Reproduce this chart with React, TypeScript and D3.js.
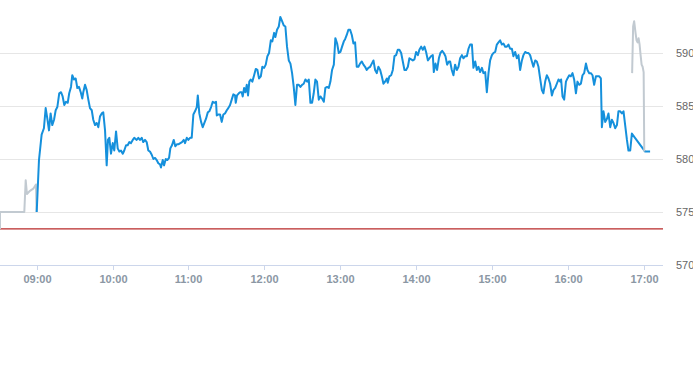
import React from "react";
import * as d3 from "d3";

// ---- data (minutes after 09:00, price) ----
const yTickValues = [570, 575, 580, 585, 590];
const xTickLabels = ["09:00", "10:00", "11:00", "12:00", "13:00", "14:00", "15:00", "16:00", "17:00"];
const referenceLevel = 573.4;

const preMarket: [number, number][] = [
  [-28.9, 573.4], [-28.9, 575.0], [-9.7, 575.0], [-8.6, 578.0], [-7.6, 576.7], [-5.2, 577.0],
  [-2.6, 577.2], [-0.5, 577.6], [0.0, 575.0],
];

const session: [number, number][] = [
  [0.1, 575.0], [1.9, 579.9], [4.0, 582.3], [5.8, 582.9], [7.2, 584.8], [8.5, 583.8], [9.8, 582.7],
  [11.1, 584.3], [12.4, 583.2], [13.8, 583.7], [15.1, 584.6], [16.4, 584.9], [17.9, 586.2], [19.3, 586.3],
  [20.6, 585.9], [21.9, 585.1], [23.2, 585.4], [24.6, 585.3], [25.8, 586.2], [27.2, 586.8], [28.2, 587.9],
  [29.6, 587.5], [30.9, 587.6], [32.2, 586.7], [33.5, 586.8], [34.9, 586.3], [36.1, 585.7], [36.9, 586.3],
  [38.3, 587.0], [39.6, 586.5], [40.9, 585.6], [42.2, 584.8], [43.6, 584.6], [44.8, 583.7], [46.2, 583.2],
  [47.5, 583.4], [48.8, 583.0], [50.1, 584.0], [51.5, 584.3], [52.7, 584.4], [54.1, 582.7], [55.4, 579.4],
  [56.4, 581.8], [57.5, 582.0], [58.8, 580.5], [60.2, 581.5], [61.4, 580.8], [62.8, 582.6], [64.1, 581.0],
  [65.4, 580.7], [66.7, 580.8], [68.1, 580.5], [69.3, 580.8], [70.7, 581.3], [72.0, 581.3], [73.3, 581.6],
  [74.6, 581.5], [76.0, 581.8], [77.2, 582.0], [79.1, 581.8], [80.4, 582.0], [81.7, 581.8], [83.1, 582.0],
  [84.3, 581.6], [85.7, 581.8], [87.0, 581.6], [88.3, 580.8], [89.6, 580.7], [91.0, 580.4], [92.3, 580.0],
  [93.6, 580.1], [94.9, 579.9], [96.2, 579.6], [97.5, 579.5], [98.3, 579.2], [99.7, 579.9], [100.7, 579.4],
  [102.1, 580.0], [103.3, 579.9], [104.7, 580.1], [105.7, 581.0], [107.0, 581.3], [108.4, 581.8], [109.6, 581.2],
  [111.0, 581.4], [112.3, 581.4], [113.6, 581.5], [114.9, 581.6], [116.3, 581.8], [117.3, 581.5], [118.7, 582.0],
  [119.9, 581.8], [121.3, 582.0], [122.6, 582.0], [123.9, 584.2], [125.2, 584.5], [126.6, 584.9], [127.4, 586.0],
  [128.6, 584.3], [130.0, 583.5], [131.3, 583.0], [132.6, 583.4], [133.9, 583.8], [135.3, 584.4], [136.5, 584.5],
  [137.9, 584.9], [139.2, 585.4], [140.5, 585.3], [141.8, 585.4], [142.4, 584.1], [143.6, 584.2], [145.0, 584.2],
  [146.3, 583.5], [147.6, 584.2], [148.9, 584.3], [150.3, 584.6], [151.5, 584.8], [152.9, 585.1], [154.2, 585.6],
  [155.5, 586.1], [156.8, 586.0], [157.4, 585.3], [158.4, 586.0], [159.8, 586.2], [160.8, 586.3], [162.1, 586.3],
  [162.9, 585.9], [164.0, 586.7], [165.0, 586.3], [166.1, 587.0], [167.1, 586.0], [168.1, 587.3], [169.2, 587.5],
  [170.5, 587.3], [171.9, 587.9], [173.2, 588.5], [174.5, 588.4], [175.8, 587.6], [177.2, 587.8], [178.4, 588.7],
  [179.8, 588.6], [181.1, 588.9], [182.4, 589.7], [183.7, 590.0], [185.1, 591.2], [186.3, 591.1], [187.7, 591.9],
  [188.7, 591.5], [190.0, 592.2], [191.4, 592.5], [192.6, 593.4], [194.0, 593.0], [195.3, 592.6], [196.6, 592.5],
  [197.9, 590.6], [199.3, 589.3], [200.6, 589.0], [201.9, 588.1], [203.2, 586.8], [204.5, 585.1], [205.8, 587.0],
  [207.2, 587.0], [208.5, 586.8], [209.8, 587.0], [211.1, 587.1], [212.4, 587.5], [213.8, 587.3], [215.1, 587.5],
  [216.4, 585.3], [217.7, 585.3], [219.0, 586.2], [220.3, 587.5], [221.6, 587.3], [223.0, 585.6], [224.3, 585.9],
  [225.6, 585.7], [227.0, 585.4], [228.2, 586.7], [229.6, 586.8], [230.9, 586.7], [232.2, 587.3], [233.5, 588.4],
  [234.9, 588.9], [236.1, 591.4], [237.5, 590.9], [238.8, 590.0], [240.1, 590.1], [241.4, 590.6], [242.8, 591.1],
  [243.8, 591.3], [245.1, 591.7], [246.4, 592.2], [247.7, 592.2], [249.1, 591.7], [250.4, 590.9], [251.7, 591.0],
  [253.0, 588.7], [254.3, 588.7], [255.6, 589.0], [257.0, 589.2], [258.3, 588.9], [259.6, 588.7], [260.9, 588.4],
  [262.2, 588.6], [263.6, 588.7], [264.9, 589.0], [266.2, 589.3], [267.5, 588.4], [268.8, 588.1], [270.1, 588.7],
  [271.5, 588.4], [272.8, 587.8], [274.1, 587.1], [275.4, 587.3], [276.8, 587.6], [277.5, 587.2], [278.8, 587.8],
  [280.2, 587.9], [281.5, 588.4], [282.8, 589.7], [284.1, 589.8], [285.4, 590.3], [286.7, 590.3], [288.1, 590.0],
  [289.4, 589.2], [290.7, 588.4], [292.0, 588.4], [293.4, 588.7], [294.6, 589.5], [296.0, 589.4], [297.3, 589.3],
  [298.6, 589.4], [299.9, 590.1], [301.3, 589.8], [302.5, 590.3], [303.9, 590.6], [305.2, 590.3], [306.5, 590.6],
  [307.8, 590.1], [309.2, 589.3], [310.4, 589.5], [311.8, 589.7], [313.1, 589.8], [313.9, 588.2], [315.2, 589.0],
  [316.5, 588.4], [317.9, 589.5], [319.1, 590.0], [320.5, 590.2], [321.8, 590.0], [323.1, 589.7], [324.4, 588.9],
  [325.8, 589.2], [326.8, 589.2], [328.1, 588.4], [329.4, 587.9], [330.7, 588.9], [332.1, 588.4], [333.4, 588.7],
  [334.7, 589.5], [336.1, 589.8], [337.3, 589.5], [338.7, 589.7], [340.0, 589.7], [341.3, 590.4], [342.6, 590.8],
  [344.0, 590.8], [345.2, 588.6], [346.6, 589.2], [347.9, 588.4], [349.2, 588.7], [350.5, 588.2], [351.9, 588.6],
  [353.1, 588.1], [354.5, 588.2], [355.8, 586.3], [357.1, 588.1], [358.4, 589.3], [359.8, 589.8], [361.0, 590.0],
  [362.4, 590.1], [363.7, 590.8], [365.0, 591.0], [366.3, 591.2], [367.7, 590.8], [368.9, 590.9], [370.3, 590.6],
  [371.6, 590.6], [372.9, 590.8], [374.2, 590.4], [375.6, 590.4], [376.8, 589.7], [378.2, 590.1], [379.5, 589.5],
  [380.8, 589.8], [382.1, 588.4], [383.5, 589.3], [384.7, 589.8], [386.1, 590.1], [387.4, 590.0], [388.7, 590.0],
  [390.0, 589.8], [391.4, 589.2], [392.6, 588.7], [394.0, 589.3], [395.3, 589.2], [396.6, 588.7], [397.9, 587.6],
  [399.3, 586.5], [400.5, 586.2], [401.9, 587.3], [403.2, 587.9], [404.5, 587.6], [405.8, 587.1], [407.2, 586.0],
  [408.4, 586.5], [409.8, 586.7], [411.1, 587.1], [412.4, 587.5], [413.8, 587.3], [414.5, 587.5], [415.6, 585.9],
  [416.9, 585.6], [418.3, 587.3], [419.5, 587.6], [420.9, 587.9], [422.2, 587.8], [423.5, 588.1], [424.8, 587.5],
  [426.2, 586.2], [427.4, 587.3], [428.8, 587.0], [430.1, 587.1], [431.4, 587.9], [432.7, 588.1], [434.1, 589.0],
  [435.3, 588.4], [436.7, 588.1], [438.0, 588.1], [439.3, 587.9], [440.6, 587.0], [442.0, 587.8], [443.2, 587.8],
  [444.6, 587.8], [445.9, 587.6], [446.7, 583.0], [448.0, 584.5], [449.3, 583.5], [450.7, 583.8], [451.9, 584.3],
  [453.3, 583.0], [454.6, 583.7], [455.9, 583.4], [457.2, 582.9], [458.6, 583.2], [459.8, 584.5], [461.2, 584.5],
  [462.5, 584.3], [463.8, 584.5], [465.1, 583.2], [466.5, 581.8], [467.7, 580.8], [469.1, 580.8], [470.4, 582.4],
  [480.9, 580.7], [484.8, 580.7],
];

const afterHours: [number, number][] = [
  [470.6, 588.1], [471.4, 592.5], [472.2, 593.0], [473.3, 591.9], [474.1, 591.2], [474.9, 591.0], [475.7, 591.4],
  [476.5, 590.8], [477.3, 589.8], [478.1, 588.9], [478.9, 588.7], [479.7, 588.2], [480.2, 580.7],
];

// ---- layout ----
const W = 693;
const H = 365;
const plotLeft = 0;
const plotRight = 663;
const plotTop = 0;
const plotBottom = 265;

const base = new Date(2024, 0, 2, 9, 0, 0).getTime();
const toDate = (m: number) => new Date(base + m * 60000);
const parseHM = (s: string) => {
  const [h, mm] = s.split(":").map(Number);
  return toDate((h - 9) * 60 + mm);
};

export default function App() {
  const x = d3.scaleTime().domain([toDate(-28.9), toDate(495)]).range([plotLeft, plotRight]);
  const y = d3.scaleLinear().domain([570, 595]).range([plotBottom, plotTop]);
  const line = d3
    .line<[number, number]>()
    .x((d) => x(toDate(d[0])))
    .y((d) => y(d[1]));

  const crisp = (v: number) => Math.round(v) + 0.5;

  return (
    <svg
      width={W}
      height={H}
      style={{ position: "absolute", left: 0, top: 0, background: "#fff" }}
      fontFamily="'Liberation Sans', Arial, sans-serif"
    >
      <defs>
        <clipPath id="plot">
          <rect x={plotLeft} y={plotTop} width={plotRight - plotLeft} height={plotBottom - plotTop} />
        </clipPath>
      </defs>
      {yTickValues
        .filter((v) => v !== 570)
        .map((v) => (
          <line key={v} x1={plotLeft} x2={plotRight} y1={crisp(y(v))} y2={crisp(y(v))} stroke="#e6e6e6" strokeWidth={1} />
        ))}
      {yTickValues.map((v) => (
        <text key={"l" + v} x={676} y={y(v) + 4} fontSize={11} fill="#666666">
          {v}
        </text>
      ))}
      <line x1={plotLeft} x2={plotRight} y1={plotBottom + 0.5} y2={plotBottom + 0.5} stroke="#ccd6eb" strokeWidth={1} />
      {xTickLabels.map((s) => {
        const xp = crisp(x(parseHM(s)));
        return (
          <g key={s}>
            <line x1={xp} x2={xp} y1={plotBottom} y2={plotBottom + 5} stroke="#ccd6eb" strokeWidth={1} />
            <text x={xp} y={283} fontSize={11} fontWeight="bold" fill="#8b97a4" textAnchor="middle">
              {s}
            </text>
          </g>
        );
      })}
      <line
        x1={plotLeft}
        x2={plotRight}
        y1={y(referenceLevel)}
        y2={y(referenceLevel)}
        stroke="#b82828"
        strokeWidth={1.2}
      />
      <g clipPath="url(#plot)">
        <path d={line(preMarket) ?? ""} fill="none" stroke="#c2cad1" strokeWidth={2} strokeLinejoin="round" />
        <path d={line(session) ?? ""} fill="none" stroke="#1590dc" strokeWidth={2} strokeLinejoin="round" />
        <path d={line(afterHours) ?? ""} fill="none" stroke="#c2cad1" strokeWidth={2} strokeLinejoin="round" />
      </g>
    </svg>
  );
}
